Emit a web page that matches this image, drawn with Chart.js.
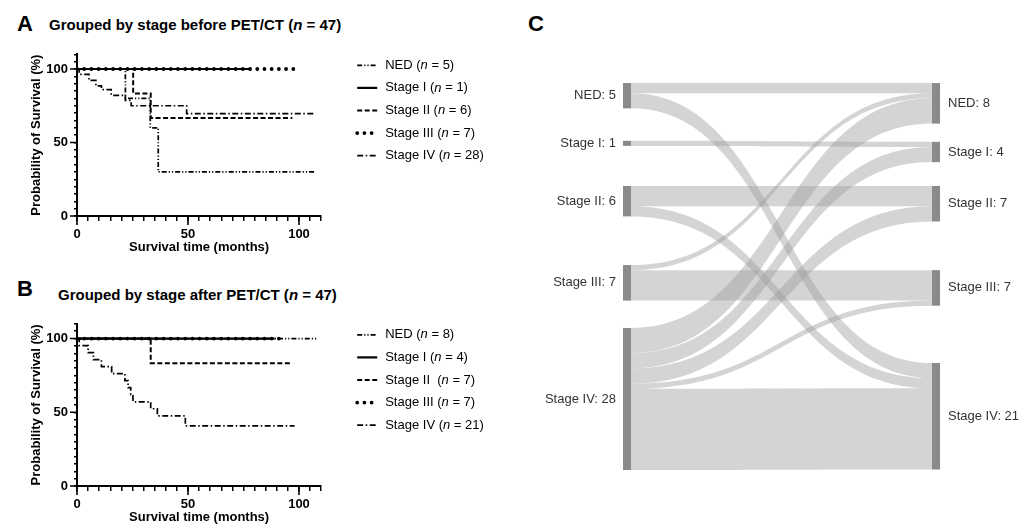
<!DOCTYPE html>
<html>
<head>
<meta charset="utf-8">
<script src="https://cdn.jsdelivr.net/npm/chart.js@4.4.1/dist/chart.umd.min.js"></script>
<style>
  body { margin: 0; background: #fff; width: 1033px; height: 529px; position: relative; overflow: hidden; font-family: "Liberation Sans", Arial, sans-serif; }
  canvas { position: absolute; }
  .letter { position: absolute; font-weight: bold; font-size: 22px; line-height: 1; color: #000; }
  .title { position: absolute; font-weight: bold; font-size: 15px; line-height: 1; color: #000; white-space: pre; }
</style>
</head>
<body>
<div class="letter" style="left:17px;top:13px">A</div>
<div class="title" style="left:49px;top:17px">Grouped by stage before PET/CT (<i>n</i> = 47)</div>
<div class="letter" style="left:17px;top:278px">B</div>
<div class="title" style="left:58px;top:287px">Grouped by stage after PET/CT (<i>n</i> = 47)</div>
<div class="letter" style="left:528px;top:13px">C</div>

<canvas id="kmA" width="520" height="216" style="left:0;top:40px"></canvas>
<canvas id="kmB" width="520" height="216" style="left:0;top:310px"></canvas>
<canvas id="sankey" width="503" height="470" style="left:530px;top:40px"></canvas>

<script>
// ---- data ----
const stageNames = ['NED', 'Stage I', 'Stage II', 'Stage III', 'Stage IV'];
const legendNamesB = ['NED', 'Stage I', 'Stage II ', 'Stage III', 'Stage IV'];
const countsBefore = [5, 1, 6, 7, 28];
const countsAfter = [8, 4, 7, 7, 21];

// Kaplan-Meier steps [months, survival %], before PET/CT
const kmA_ned = [[0, 100], [21.8, 80], [33, 60], [36.6, 30], [107.7, 30]];
const kmA_st1 = [[0, 100], [77.5, 100]];
const kmA_st2 = [[0, 100], [25.3, 83.3], [33.2, 66.7], [97, 66.7]];
const kmA_st3 = [[0, 100], [99.5, 100]];
const kmA_st4 = [[0, 100], [1, 96.4], [5.4, 92.2], [8.5, 88.5], [11, 86], [15.4, 82.1],
                 [21.8, 78.6], [24.4, 75], [49.4, 69.6], [107.5, 69.6]];

// after PET/CT
const kmB_ned = [[0, 100], [108, 100]];
const kmB_st1 = [[0, 100], [89, 100]];
const kmB_st2 = [[0, 100], [33.2, 83.3], [97, 83.3]];
const kmB_st3 = [[0, 100], [91.5, 100]];
const kmB_st4 = [[0, 100], [1, 95.2], [5, 90.5], [7.4, 85.7], [11, 81], [15.6, 76.2], [21.6, 71.4],
                 [23, 66.7], [24.2, 61.9], [25.2, 57.1], [33.2, 52.4], [36.2, 47.6], [48.8, 40.8], [98, 40.8]];

const xTicksMajor = [0, 50, 100];
const yTicksMajor = [0, 50, 100];

// sankey flows [from stage before, to stage after, patients]
const flows = [
  [0, 0, 2], [0, 4, 3],
  [1, 1, 1],
  [2, 2, 4], [2, 4, 2],
  [3, 0, 1], [3, 3, 6],
  [4, 0, 5], [4, 1, 3], [4, 2, 3], [4, 3, 1], [4, 4, 16]
];

// ---- layout (gaps between sankey nodes, in patient units) ----
const leftGaps = [6.4, 7.9, 9.6, 5.4];
const rightGaps = [3.6, 4.7, 9.6, 11.3];

const lineStyles = [
  { borderWidth: 1.7, borderDash: [5, 2, 1.2, 2, 1.2, 2], borderCapStyle: 'butt' },
  { borderWidth: 2.2, borderDash: [], borderCapStyle: 'butt' },
  { borderWidth: 2, borderDash: [5, 2.5], borderCapStyle: 'butt' },
  { borderWidth: 3.8, borderDash: [0.01, 7.2], borderCapStyle: 'round' },
  { borderWidth: 1.7, borderDash: [6, 2.5, 1.5, 2.5], borderCapStyle: 'butt' }
];

const FONT = '"Liberation Sans", Arial, sans-serif';

const majorTicks = {
  id: 'majorTicks',
  afterDraw(chart) {
    const { ctx, chartArea, scales: { x, y } } = chart;
    ctx.save();
    ctx.strokeStyle = '#000';
    ctx.lineWidth = 1.6;
    ctx.beginPath();
    xTicksMajor.forEach(v => {
      const px = x.getPixelForValue(v);
      ctx.moveTo(px, chartArea.bottom);
      ctx.lineTo(px, chartArea.bottom + 9);
    });
    yTicksMajor.forEach(v => {
      const py = y.getPixelForValue(v);
      ctx.moveTo(chartArea.left, py);
      ctx.lineTo(chartArea.left - 7, py);
    });
    ctx.stroke();
    ctx.restore();
  }
};

const kmLegend = {
  id: 'kmLegend',
  afterDraw(chart, args, opts) {
    const { ctx, chartArea } = chart;
    chart.data.datasets.forEach((ds, i) => {
      const y = chartArea.top + 11 + i * 22.6;
      const x0 = chartArea.right + 36;
      ctx.save();
      ctx.strokeStyle = '#000';
      ctx.lineWidth = ds.borderWidth;
      ctx.setLineDash(ds.borderDash);
      ctx.lineCap = ds.borderCapStyle;
      ctx.beginPath();
      ctx.moveTo(x0, y);
      ctx.lineTo(x0 + 20, y);
      ctx.stroke();
      ctx.restore();

      const parts = [[opts.names[i] + ' (', false], ['n', true], [' = ' + opts.counts[i] + ')', false]];
      let tx = x0 + 28;
      ctx.save();
      ctx.fillStyle = '#000';
      ctx.textBaseline = 'middle';
      parts.forEach(([txt, italic]) => {
        ctx.font = (italic ? 'italic ' : '') + '13px ' + FONT;
        ctx.fillText(txt, tx, y);
        tx += ctx.measureText(txt).width;
      });
      ctx.restore();
    });
  }
};

function kmChart(id, series, names, counts, topPad) {
  return new Chart(document.getElementById(id), {
    type: 'line',
    data: {
      datasets: series.map((s, i) => ({
        label: names[i],
        data: s.map(([x, y]) => ({ x, y })),
        stepped: true,
        fill: false,
        pointRadius: 0,
        borderColor: '#000',
        ...lineStyles[i]
      }))
    },
    options: {
      responsive: false,
      animation: false,
      layout: { padding: { left: 0, top: topPad, right: 520 - 321.2, bottom: 0 } },
      plugins: {
        legend: { display: false },
        tooltip: { enabled: false },
        kmLegend: { names, counts }
      },
      scales: {
        x: {
          type: 'linear', min: 0, max: 110,
          afterFit: s => { s.height = 40; },
          border: { color: '#000', width: 2 },
          grid: { drawOnChartArea: false, color: '#000', tickLength: 5, lineWidth: 1.5 },
          ticks: {
            stepSize: 5, padding: 6, color: '#000', maxRotation: 0, autoSkip: false,
            font: { family: FONT, size: 13, weight: 'bold' },
            callback: v => (xTicksMajor.includes(v) ? v : '')
          },
          title: {
            display: true, text: 'Survival time (months)', color: '#000',
            font: { family: FONT, size: 13, weight: 'bold' }, padding: { top: 0, bottom: 0.7 }
          }
        },
        y: {
          type: 'linear', min: 0, max: 110,
          afterFit: s => { s.width = 77; },
          border: { color: '#000', width: 2 },
          grid: { drawOnChartArea: false, color: '#000', tickLength: 3, lineWidth: 1.5 },
          ticks: {
            stepSize: 5, padding: 6, color: '#000', autoSkip: false,
            font: { family: FONT, size: 13, weight: 'bold' },
            callback: v => (yTicksMajor.includes(v) ? v : '')
          },
          title: {
            display: true, text: 'Probability of Survival (%)', color: '#000',
            font: { family: FONT, size: 13, weight: 'bold' }, padding: { top: 28.7, bottom: 0 }
          }
        }
      }
    },
    plugins: [majorTicks, kmLegend]
  });
}

kmChart('kmA', [kmA_ned, kmA_st1, kmA_st2, kmA_st3, kmA_st4], stageNames, countsBefore, 14.3);
kmChart('kmB', [kmB_ned, kmB_st1, kmB_st2, kmB_st3, kmB_st4], legendNamesB, countsAfter, 12);

// ---- sankey (panel C) ----
function nodeTops(counts, gaps) {
  let acc = 0;
  return counts.map((c, i) => {
    const t = acc;
    acc += c + (gaps[i] || 0);
    return t;
  });
}
const leftTops = nodeTops(countsBefore, leftGaps);
const rightTops = nodeTops(countsAfter, rightGaps);
const sankeyMax = Math.max(
  leftTops[4] + countsBefore[4],
  rightTops[4] + countsAfter[4]
);

const sankeyDraw = {
  id: 'sankeyDraw',
  afterDraw(chart) {
    const { ctx, scales: { x, y } } = chart;
    const nw = 8;
    const xl = x.getPixelForValue(0);
    const xr = x.getPixelForValue(1);
    const outOff = countsBefore.map(() => 0);
    const inOff = countsAfter.map(() => 0);

    ctx.save();
    ctx.fillStyle = 'rgba(160,160,160,0.45)';
    flows.forEach(([s, t, n]) => {
      const y0 = y.getPixelForValue(leftTops[s] + outOff[s]);
      const y0b = y.getPixelForValue(leftTops[s] + outOff[s] + n);
      const y1 = y.getPixelForValue(rightTops[t] + inOff[t]);
      const y1b = y.getPixelForValue(rightTops[t] + inOff[t] + n);
      outOff[s] += n;
      inOff[t] += n;
      const x0 = xl + nw, x1 = xr - nw, xm = (x0 + x1) / 2;
      ctx.beginPath();
      ctx.moveTo(x0, y0);
      ctx.bezierCurveTo(xm, y0, xm, y1, x1, y1);
      ctx.lineTo(x1, y1b);
      ctx.bezierCurveTo(xm, y1b, xm, y0b, x0, y0b);
      ctx.closePath();
      ctx.fill();
    });

    ctx.fillStyle = '#8a8a8a';
    countsBefore.forEach((c, i) => {
      const t = y.getPixelForValue(leftTops[i]);
      ctx.fillRect(xl, t, nw, y.getPixelForValue(leftTops[i] + c) - t);
    });
    countsAfter.forEach((c, i) => {
      const t = y.getPixelForValue(rightTops[i]);
      ctx.fillRect(xr - nw, t, nw, y.getPixelForValue(rightTops[i] + c) - t);
    });

    ctx.fillStyle = '#333';
    ctx.font = '13px ' + FONT;
    ctx.textBaseline = 'middle';
    ctx.textAlign = 'right';
    countsBefore.forEach((c, i) => {
      ctx.fillText(stageNames[i] + ': ' + c, xl - 7, y.getPixelForValue(leftTops[i] + c / 2));
    });
    ctx.textAlign = 'left';
    countsAfter.forEach((c, i) => {
      ctx.fillText(stageNames[i] + ': ' + c, xr + 8, y.getPixelForValue(rightTops[i] + c / 2));
    });
    ctx.restore();
  }
};

new Chart(document.getElementById('sankey'), {
  type: 'scatter',
  data: { datasets: [] },
  options: {
    responsive: false,
    animation: false,
    layout: { padding: { left: 93, right: 93, top: 43, bottom: 40 } },
    plugins: { legend: { display: false }, tooltip: { enabled: false } },
    scales: {
      x: { type: 'linear', min: 0, max: 1, display: false },
      y: { type: 'linear', min: 0, max: sankeyMax, reverse: true, display: false }
    }
  },
  plugins: [sankeyDraw]
});
</script>
</body>
</html>
